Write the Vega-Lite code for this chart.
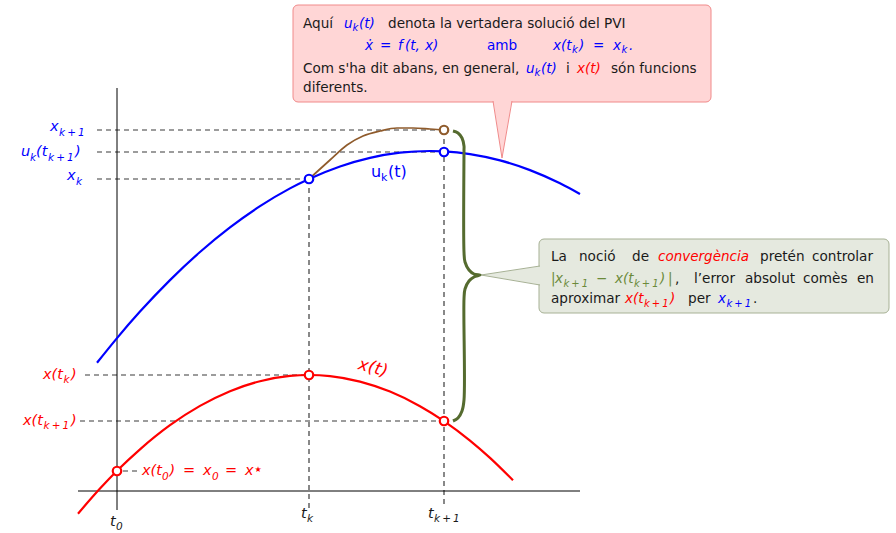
{
 "$schema": "https://vega.github.io/schema/vega-lite/v6.json",
 "width": 896, "height": 533, "padding": 0,
 "autosize": {"type": "none"},
 "background": "white",
 "config": {"view": {"stroke": null}},
 "datasets": {
  "boxes": [
   {"X": 176, "Y": 486, "X2": 594, "Y2": 389, "k": "pink"},
   {"X": 422, "Y": 252, "X2": 772, "Y2": 178, "k": "grn"}
  ],
  "pinkptr": [{"Y": 392, "X": 376, "X2": 395}, {"Y": 333, "X": 385, "X2": 385}],
  "grnptr": [{"X": 425, "Y": 225, "Y2": 206}, {"X": 364, "Y": 216, "Y2": 216}],
  "segs": [
   {"X": -39, "Y": 0, "X2": 463, "Y2": 0, "k": "axis"},
   {"X": 0, "Y": 403, "X2": 0, "Y2": -19, "k": "axis"},
   {"X": -20, "Y": 361, "X2": 327, "Y2": 361, "k": "dash"},
   {"X": -20, "Y": 339, "X2": 327, "Y2": 339, "k": "dash"},
   {"X": -20, "Y": 312, "X2": 192, "Y2": 312, "k": "dash"},
   {"X": -32, "Y": 116, "X2": 192, "Y2": 116, "k": "dash"},
   {"X": -37, "Y": 70, "X2": 327, "Y2": 70, "k": "dash"},
   {"X": 6, "Y": 20, "X2": 20, "Y2": 20, "k": "dash"},
   {"X": 192, "Y": 312, "X2": 192, "Y2": -17, "k": "dash"},
   {"X": 327, "Y": 361, "X2": 327, "Y2": -17, "k": "dash"},
   {"X": 376, "Y": 390, "X2": 385, "Y2": 333, "k": "pink"},
   {"X": 395, "Y": 390, "X2": 385, "Y2": 333, "k": "pink"},
   {"X": 423, "Y": 225, "X2": 364, "Y2": 216, "k": "grn"},
   {"X": 423, "Y": 206, "X2": 364, "Y2": 216, "k": "grn"}
  ],
  "curves": [
   {"c": "u", "i": 1, "X": -20, "Y": 128.2},
   {"c": "u", "i": 2, "X": 0, "Y": 152.9},
   {"c": "u", "i": 3, "X": 23, "Y": 179.4},
   {"c": "u", "i": 4, "X": 53, "Y": 210.9},
   {"c": "u", "i": 5, "X": 83, "Y": 239},
   {"c": "u", "i": 6, "X": 113, "Y": 263.6},
   {"c": "u", "i": 7, "X": 143, "Y": 284.8},
   {"c": "u", "i": 8, "X": 173, "Y": 302.6},
   {"c": "u", "i": 9, "X": 192, "Y": 312},
   {"c": "u", "i": 10, "X": 223, "Y": 324.5},
   {"c": "u", "i": 11, "X": 253, "Y": 333.1},
   {"c": "u", "i": 12, "X": 283, "Y": 338.3},
   {"c": "u", "i": 13, "X": 313, "Y": 340},
   {"c": "u", "i": 14, "X": 327, "Y": 339.6},
   {"c": "u", "i": 15, "X": 353, "Y": 336.9},
   {"c": "u", "i": 16, "X": 383, "Y": 330.6},
   {"c": "u", "i": 17, "X": 413, "Y": 320.9},
   {"c": "u", "i": 18, "X": 443, "Y": 307.7},
   {"c": "u", "i": 19, "X": 463, "Y": 297},
   {"c": "x", "i": 1, "X": -39, "Y": -22.7},
   {"c": "x", "i": 2, "X": -17, "Y": 2.4},
   {"c": "x", "i": 3, "X": 0, "Y": 20.2},
   {"c": "x", "i": 4, "X": 23, "Y": 41.7},
   {"c": "x", "i": 5, "X": 53, "Y": 65.8},
   {"c": "x", "i": 6, "X": 83, "Y": 85.1},
   {"c": "x", "i": 7, "X": 113, "Y": 99.8},
   {"c": "x", "i": 8, "X": 143, "Y": 109.8},
   {"c": "x", "i": 9, "X": 173, "Y": 115.1},
   {"c": "x", "i": 10, "X": 192, "Y": 116},
   {"c": "x", "i": 11, "X": 213, "Y": 114.9},
   {"c": "x", "i": 12, "X": 243, "Y": 109.4},
   {"c": "x", "i": 13, "X": 273, "Y": 99.4},
   {"c": "x", "i": 14, "X": 303, "Y": 84.8},
   {"c": "x", "i": 15, "X": 327, "Y": 69.9},
   {"c": "x", "i": 16, "X": 353, "Y": 50.4},
   {"c": "x", "i": 17, "X": 373, "Y": 33.1},
   {"c": "x", "i": 18, "X": 396, "Y": 10.7}
  ],
  "brown": [
   {"i": 1, "X": 192, "Y": 312},
   {"i": 2, "X": 213, "Y": 331},
   {"i": 3, "X": 230, "Y": 346},
   {"i": 4, "X": 246, "Y": 355},
   {"i": 5, "X": 263, "Y": 360},
   {"i": 6, "X": 280, "Y": 363},
   {"i": 7, "X": 296, "Y": 363},
   {"i": 8, "X": 313, "Y": 362},
   {"i": 9, "X": 327, "Y": 361}
  ],
  "brace": [
   {"i": 1, "X": 336, "Y": 360},
   {"i": 2, "X": 341, "Y": 358},
   {"i": 3, "X": 345, "Y": 353},
   {"i": 4, "X": 347, "Y": 345},
   {"i": 5, "X": 347, "Y": 341},
   {"i": 6, "X": 347, "Y": 239},
   {"i": 7, "X": 348, "Y": 229},
   {"i": 8, "X": 352, "Y": 221},
   {"i": 9, "X": 357, "Y": 217},
   {"i": 10, "X": 363, "Y": 216},
   {"i": 11, "X": 357, "Y": 214},
   {"i": 12, "X": 352, "Y": 210},
   {"i": 13, "X": 348, "Y": 202},
   {"i": 14, "X": 347, "Y": 192},
   {"i": 15, "X": 347, "Y": 91},
   {"i": 16, "X": 345, "Y": 80},
   {"i": 17, "X": 341, "Y": 73},
   {"i": 18, "X": 336, "Y": 70}
  ],
  "pts": [
   {"c": "u", "X": 192, "Y": 312},
   {"c": "u", "X": 327, "Y": 339},
   {"c": "b", "X": 327, "Y": 361},
   {"c": "x", "X": 0, "Y": 20},
   {"c": "x", "X": 192, "Y": 116},
   {"c": "x", "X": 327, "Y": 70}
  ],
  "texts": [
   {"X": 186, "Y": 463, "t": "Aquí", "c": "k", "g": "body"},
   {"X": 227, "Y": 463, "t": "u", "c": "u", "g": "math"},
   {"X": 235.5, "Y": 460, "t": "k", "c": "u", "g": "sub"},
   {"X": 242, "Y": 463, "t": "(t)", "c": "u", "g": "math"},
   {"X": 271, "Y": 463, "t": "denota la vertadera solució del PVI", "c": "k", "g": "body"},
   {"X": 248, "Y": 441, "t": "ẋ", "c": "u", "g": "math"},
   {"X": 263, "Y": 441, "t": "=", "c": "u", "g": "math"},
   {"X": 281, "Y": 441, "t": "f", "c": "u", "g": "math"},
   {"X": 288, "Y": 441, "t": "(t,", "c": "u", "g": "math"},
   {"X": 308, "Y": 441, "t": "x)", "c": "u", "g": "math"},
   {"X": 370, "Y": 441, "t": "amb", "c": "u", "g": "body"},
   {"X": 436, "Y": 441, "t": "x(t", "c": "u", "g": "math"},
   {"X": 455, "Y": 438, "t": "k", "c": "u", "g": "sub"},
   {"X": 462, "Y": 441, "t": ")", "c": "u", "g": "math"},
   {"X": 476, "Y": 441, "t": "=", "c": "u", "g": "math"},
   {"X": 496, "Y": 441, "t": "x", "c": "u", "g": "math"},
   {"X": 504.5, "Y": 438, "t": "k", "c": "u", "g": "sub"},
   {"X": 512, "Y": 441, "t": ".", "c": "u", "g": "math"},
   {"X": 186, "Y": 418, "t": "Com s'ha dit abans, en general,", "c": "k", "g": "body"},
   {"X": 409, "Y": 418, "t": "u", "c": "u", "g": "math"},
   {"X": 417.5, "Y": 415, "t": "k", "c": "u", "g": "sub"},
   {"X": 424, "Y": 418, "t": "(t)", "c": "u", "g": "math"},
   {"X": 449, "Y": 418, "t": "i", "c": "k", "g": "body"},
   {"X": 460, "Y": 418, "t": "x(t)", "c": "x", "g": "math"},
   {"X": 494, "Y": 418, "t": "són funcions", "c": "k", "g": "body"},
   {"X": 186, "Y": 399, "t": "diferents.", "c": "k", "g": "body"},
   {"X": 434, "Y": 230, "t": "La", "c": "k", "g": "body"},
   {"X": 462, "Y": 230, "t": "noció", "c": "k", "g": "body"},
   {"X": 515, "Y": 230, "t": "de", "c": "k", "g": "body"},
   {"X": 541, "Y": 230, "t": "convergència", "c": "x", "g": "math"},
   {"X": 643, "Y": 230, "t": "pretén", "c": "k", "g": "body"},
   {"X": 695, "Y": 230, "t": "controlar", "c": "k", "g": "body"},
   {"X": 434, "Y": 208, "t": "|", "c": "e", "g": "math"},
   {"X": 438, "Y": 208, "t": "x", "c": "e", "g": "math"},
   {"X": 446.5, "Y": 204.5, "t": "k\u2009+\u20091", "c": "e", "g": "sub"},
   {"X": 479, "Y": 208, "t": "−", "c": "e", "g": "math"},
   {"X": 498, "Y": 208, "t": "x(t", "c": "e", "g": "math"},
   {"X": 517, "Y": 204.5, "t": "k\u2009+\u20091", "c": "e", "g": "sub"},
   {"X": 543, "Y": 208, "t": ")", "c": "e", "g": "math"},
   {"X": 551, "Y": 208, "t": "|", "c": "e", "g": "math"},
   {"X": 558, "Y": 208, "t": ",", "c": "k", "g": "body"},
   {"X": 577, "Y": 208, "t": "l’error", "c": "k", "g": "body"},
   {"X": 628, "Y": 208, "t": "absolut", "c": "k", "g": "body"},
   {"X": 686, "Y": 208, "t": "comès", "c": "k", "g": "body"},
   {"X": 740, "Y": 208, "t": "en", "c": "k", "g": "body"},
   {"X": 434, "Y": 188, "t": "aproximar", "c": "k", "g": "body"},
   {"X": 508, "Y": 188, "t": "x(t", "c": "x", "g": "math"},
   {"X": 527, "Y": 184.5, "t": "k\u2009+\u20091", "c": "x", "g": "sub"},
   {"X": 553, "Y": 188, "t": ")", "c": "x", "g": "math"},
   {"X": 571, "Y": 188, "t": "per", "c": "k", "g": "body"},
   {"X": 601, "Y": 188, "t": "x", "c": "u", "g": "math"},
   {"X": 609.5, "Y": 184.5, "t": "k\u2009+\u20091", "c": "u", "g": "sub"},
   {"X": 636, "Y": 188, "t": ".", "c": "k", "g": "body"},
   {"X": -67, "Y": 360, "t": "x", "c": "u", "g": "lab"},
   {"X": -58, "Y": 355.5, "t": "k\u2009+\u20091", "c": "u", "g": "labsub"},
   {"X": -96, "Y": 335, "t": "u", "c": "u", "g": "lab"},
   {"X": -87, "Y": 330.5, "t": "k", "c": "u", "g": "labsub"},
   {"X": -81, "Y": 335, "t": "(t", "c": "u", "g": "lab"},
   {"X": -69, "Y": 330.5, "t": "k\u2009+\u20091", "c": "u", "g": "labsub"},
   {"X": -42, "Y": 335, "t": ")", "c": "u", "g": "lab"},
   {"X": -50, "Y": 311, "t": "x", "c": "u", "g": "lab"},
   {"X": -41, "Y": 306.5, "t": "k", "c": "u", "g": "labsub"},
   {"X": -74, "Y": 112.5, "t": "x(t", "c": "x", "g": "lab"},
   {"X": -53.5, "Y": 108, "t": "k", "c": "x", "g": "labsub"},
   {"X": -46, "Y": 112.5, "t": ")", "c": "x", "g": "lab"},
   {"X": -94, "Y": 66.5, "t": "x(t", "c": "x", "g": "lab"},
   {"X": -73.5, "Y": 62, "t": "k\u2009+\u20091", "c": "x", "g": "labsub"},
   {"X": -46, "Y": 66.5, "t": ")", "c": "x", "g": "lab"},
   {"X": 25, "Y": 16, "t": "x(t", "c": "x", "g": "lab"},
   {"X": 45, "Y": 11.5, "t": "0", "c": "x", "g": "labsub"},
   {"X": 52.5, "Y": 16, "t": ")", "c": "x", "g": "lab"},
   {"X": 66, "Y": 16, "t": "=", "c": "x", "g": "lab"},
   {"X": 86, "Y": 16, "t": "x", "c": "x", "g": "lab"},
   {"X": 95, "Y": 11.5, "t": "0", "c": "x", "g": "labsub"},
   {"X": 108, "Y": 16, "t": "=", "c": "x", "g": "lab"},
   {"X": 128, "Y": 16, "t": "x", "c": "x", "g": "lab"},
   {"X": 137.5, "Y": 19.5, "t": "★", "c": "x", "g": "sup"},
   {"X": -7, "Y": -35, "t": "t", "c": "k", "g": "lab"},
   {"X": -1, "Y": -39, "t": "0", "c": "k", "g": "labsub"},
   {"X": 184, "Y": -27, "t": "t", "c": "k", "g": "lab"},
   {"X": 190, "Y": -31, "t": "k", "c": "k", "g": "labsub"},
   {"X": 311, "Y": -27, "t": "t", "c": "k", "g": "lab"},
   {"X": 317, "Y": -31, "t": "k\u2009+\u20091", "c": "k", "g": "labsub"},
   {"X": 254, "Y": 314, "t": "u", "c": "u", "g": "up16"},
   {"X": 264, "Y": 310, "t": "k", "c": "u", "g": "upsub"},
   {"X": 271, "Y": 314, "t": "(t)", "c": "u", "g": "up16"},
   {"X": 256, "Y": 123, "t": "x(t)", "c": "x", "g": "xt"}
  ]
 },
 "encoding": {
  "x": {"field": "X", "type": "quantitative", "scale": {"domain": [-117, 779], "nice": false, "zero": false}, "axis": null},
  "y": {"field": "Y", "type": "quantitative", "scale": {"domain": [-42, 491], "nice": false, "zero": false}, "axis": null}
 },
 "layer": [
  {"data": {"name": "boxes"}, "transform": [{"filter": "datum.k == 'pink'"}],
   "mark": {"type": "rect", "fill": "#ffd6d6", "stroke": "#f08a8a", "strokeWidth": 1, "cornerRadius": 5},
   "encoding": {"x2": {"field": "X2"}, "y2": {"field": "Y2"}}},
  {"data": {"name": "boxes"}, "transform": [{"filter": "datum.k == 'grn'"}],
   "mark": {"type": "rect", "fill": "#e5e9df", "stroke": "#a7b195", "strokeWidth": 1, "cornerRadius": 5},
   "encoding": {"x2": {"field": "X2"}, "y2": {"field": "Y2"}}},
  {"data": {"name": "pinkptr"},
   "mark": {"type": "area", "orient": "horizontal", "fill": "#ffd6d6", "opacity": 1},
   "encoding": {"x2": {"field": "X2"}}},
  {"data": {"name": "grnptr"},
   "mark": {"type": "area", "orient": "vertical", "fill": "#e5e9df", "opacity": 1},
   "encoding": {"y2": {"field": "Y2"}}},
  {"data": {"name": "segs"}, "transform": [{"filter": "datum.k == 'dash'"}],
   "mark": {"type": "rule", "stroke": "#3a3a3a", "strokeWidth": 1.2, "strokeDash": [5, 4]},
   "encoding": {"x2": {"field": "X2"}, "y2": {"field": "Y2"}}},
  {"data": {"name": "segs"}, "transform": [{"filter": "datum.k == 'axis'"}],
   "mark": {"type": "rule", "stroke": "#000000", "strokeWidth": 1},
   "encoding": {"x2": {"field": "X2"}, "y2": {"field": "Y2"}}},
  {"data": {"name": "segs"}, "transform": [{"filter": "datum.k == 'pink'"}],
   "mark": {"type": "rule", "stroke": "#f08a8a", "strokeWidth": 1},
   "encoding": {"x2": {"field": "X2"}, "y2": {"field": "Y2"}}},
  {"data": {"name": "segs"}, "transform": [{"filter": "datum.k == 'grn'"}],
   "mark": {"type": "rule", "stroke": "#a7b195", "strokeWidth": 1},
   "encoding": {"x2": {"field": "X2"}, "y2": {"field": "Y2"}}},
  {"data": {"name": "curves"},
   "mark": {"type": "line", "strokeWidth": 2.2, "interpolate": "monotone"},
   "encoding": {
    "color": {"field": "c", "type": "nominal", "scale": {"domain": ["u", "x", "b", "g", "k", "e"], "range": ["#0000ff", "#ff0000", "#8f5b2c", "#556b2f", "#1a1a1a", "#6b8a3a"]}, "legend": null},
    "order": {"field": "i", "type": "quantitative"}}},
  {"data": {"name": "brown"},
   "mark": {"type": "line", "strokeWidth": 1.7, "interpolate": "monotone", "stroke": "#8f5b2c"},
   "encoding": {"order": {"field": "i", "type": "quantitative"}}},
  {"data": {"name": "brace"},
   "mark": {"type": "line", "strokeWidth": 3, "interpolate": "catmull-rom", "stroke": "#556b2f"},
   "encoding": {"order": {"field": "i", "type": "quantitative"}}},
  {"data": {"name": "pts"},
   "mark": {"type": "point", "shape": "circle", "filled": true, "fill": "white", "opacity": 1, "strokeWidth": 2.2, "size": 72},
   "encoding": {
    "stroke": {"field": "c", "type": "nominal", "scale": {"domain": ["u", "x", "b", "g", "k", "e"], "range": ["#0000ff", "#ff0000", "#8f5b2c", "#556b2f", "#1a1a1a", "#6b8a3a"]}, "legend": null}}},
  {"data": {"name": "texts"}, "transform": [{"filter": "datum.g == 'body'"}],
   "mark": {"type": "text", "align": "left", "baseline": "alphabetic", "font": "DejaVu Sans", "fontSize": 13.6},
   "encoding": {"text": {"field": "t"},
    "color": {"field": "c", "type": "nominal", "scale": {"domain": ["u", "x", "b", "g", "k", "e"], "range": ["#0000ff", "#ff0000", "#8f5b2c", "#556b2f", "#1a1a1a", "#6b8a3a"]}, "legend": null}}},
  {"data": {"name": "texts"}, "transform": [{"filter": "datum.g == 'math'"}],
   "mark": {"type": "text", "align": "left", "baseline": "alphabetic", "font": "DejaVu Sans", "fontSize": 13.5, "fontStyle": "italic"},
   "encoding": {"text": {"field": "t"},
    "color": {"field": "c", "type": "nominal", "scale": {"domain": ["u", "x", "b", "g", "k", "e"], "range": ["#0000ff", "#ff0000", "#8f5b2c", "#556b2f", "#1a1a1a", "#6b8a3a"]}, "legend": null}}},
  {"data": {"name": "texts"}, "transform": [{"filter": "datum.g == 'sub'"}],
   "mark": {"type": "text", "align": "left", "baseline": "alphabetic", "font": "DejaVu Sans", "fontSize": 10, "fontStyle": "italic"},
   "encoding": {"text": {"field": "t"},
    "color": {"field": "c", "type": "nominal", "scale": {"domain": ["u", "x", "b", "g", "k", "e"], "range": ["#0000ff", "#ff0000", "#8f5b2c", "#556b2f", "#1a1a1a", "#6b8a3a"]}, "legend": null}}},
  {"data": {"name": "texts"}, "transform": [{"filter": "datum.g == 'lab'"}],
   "mark": {"type": "text", "align": "left", "baseline": "alphabetic", "font": "DejaVu Sans", "fontSize": 14.5, "fontStyle": "italic"},
   "encoding": {"text": {"field": "t"},
    "color": {"field": "c", "type": "nominal", "scale": {"domain": ["u", "x", "b", "g", "k", "e"], "range": ["#0000ff", "#ff0000", "#8f5b2c", "#556b2f", "#1a1a1a", "#6b8a3a"]}, "legend": null}}},
  {"data": {"name": "texts"}, "transform": [{"filter": "datum.g == 'labsub'"}],
   "mark": {"type": "text", "align": "left", "baseline": "alphabetic", "font": "DejaVu Sans", "fontSize": 10.5, "fontStyle": "italic"},
   "encoding": {"text": {"field": "t"},
    "color": {"field": "c", "type": "nominal", "scale": {"domain": ["u", "x", "b", "g", "k", "e"], "range": ["#0000ff", "#ff0000", "#8f5b2c", "#556b2f", "#1a1a1a", "#6b8a3a"]}, "legend": null}}},
  {"data": {"name": "texts"}, "transform": [{"filter": "datum.g == 'sup'"}],
   "mark": {"type": "text", "align": "left", "baseline": "alphabetic", "font": "DejaVu Sans", "fontSize": 8},
   "encoding": {"text": {"field": "t"},
    "color": {"field": "c", "type": "nominal", "scale": {"domain": ["u", "x", "b", "g", "k", "e"], "range": ["#0000ff", "#ff0000", "#8f5b2c", "#556b2f", "#1a1a1a", "#6b8a3a"]}, "legend": null}}},
  {"data": {"name": "texts"}, "transform": [{"filter": "datum.g == 'up16'"}],
   "mark": {"type": "text", "align": "left", "baseline": "alphabetic", "font": "DejaVu Sans", "fontSize": 16},
   "encoding": {"text": {"field": "t"},
    "color": {"field": "c", "type": "nominal", "scale": {"domain": ["u", "x", "b", "g", "k", "e"], "range": ["#0000ff", "#ff0000", "#8f5b2c", "#556b2f", "#1a1a1a", "#6b8a3a"]}, "legend": null}}},
  {"data": {"name": "texts"}, "transform": [{"filter": "datum.g == 'upsub'"}],
   "mark": {"type": "text", "align": "left", "baseline": "alphabetic", "font": "DejaVu Sans", "fontSize": 11},
   "encoding": {"text": {"field": "t"},
    "color": {"field": "c", "type": "nominal", "scale": {"domain": ["u", "x", "b", "g", "k", "e"], "range": ["#0000ff", "#ff0000", "#8f5b2c", "#556b2f", "#1a1a1a", "#6b8a3a"]}, "legend": null}}},
  {"data": {"name": "texts"}, "transform": [{"filter": "datum.g == 'xt'"}],
   "mark": {"type": "text", "align": "center", "baseline": "middle", "font": "DejaVu Sans", "fontSize": 17, "fontStyle": "italic", "angle": 15},
   "encoding": {"text": {"field": "t"},
    "color": {"field": "c", "type": "nominal", "scale": {"domain": ["u", "x", "b", "g", "k", "e"], "range": ["#0000ff", "#ff0000", "#8f5b2c", "#556b2f", "#1a1a1a", "#6b8a3a"]}, "legend": null}}}
 ]
}
